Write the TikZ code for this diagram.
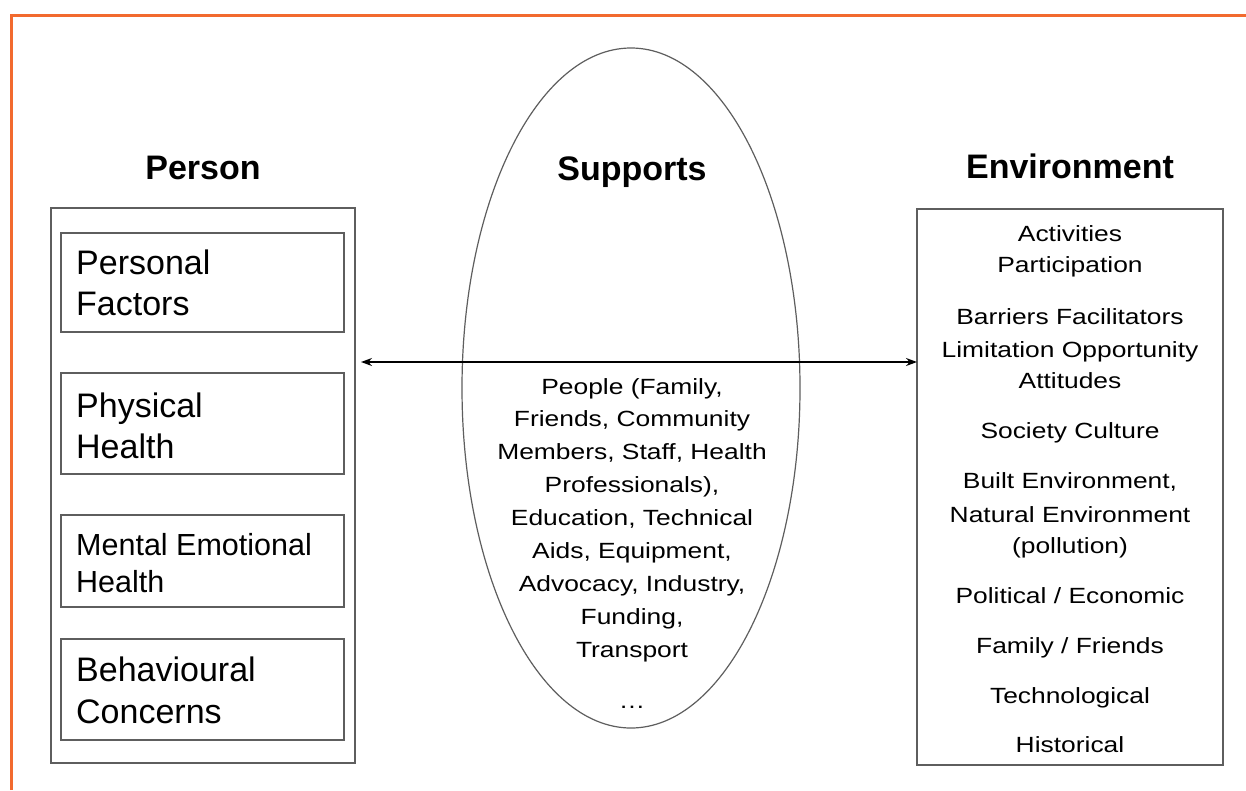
\documentclass[tikz,border=0pt]{standalone}
\usepackage{fontspec}
\setmainfont{Liberation Sans}
\usetikzlibrary{arrows.meta}
\definecolor{frame}{HTML}{F26A2E}
\definecolor{boxline}{HTML}{5E5E5E}
\newcommand\sxs[1]{\scalebox{1.2}[1]{#1}}
\tikzset{
  title/.style={font=\fontsize{34}{40}\bfseries\selectfont, anchor=base, inner sep=0pt},
  small/.style={font=\fontsize{22}{26}\selectfont, anchor=base, inner sep=0pt},
  big/.style={font=\fontsize{34}{40}\selectfont, anchor=base west, inner sep=0pt},
  mid/.style={font=\fontsize{30.5}{36}\selectfont, anchor=base west, inner sep=0pt},
  boxshape/.style={draw=boxline, line width=1.5pt, fill=none},
}
\begin{document}
\begin{tikzpicture}[x=1pt,y=-1pt]
\useasboundingbox (0,0) rectangle (1246,790);
\fill[white] (0,0) rectangle (1246,790);
% orange frame
\draw[frame, line width=3pt] (11.5,790) -- (11.5,15) -- (1246,15);

% Person column
\node[title] (ptitle) at (203,179) {Person};
\draw[boxshape] (51,208) rectangle (355,763);
\draw[boxshape] (61,233) rectangle (344,332);
\draw[boxshape] (61,373) rectangle (344,474);
\draw[boxshape] (61,515) rectangle (344,607);
\draw[boxshape] (61,639) rectangle (344,740);
\node[big] (pf1) at (76,274) {Personal};
\node[big] (pf2) at (76,315) {Factors};
\node[big] (ph1) at (76,417) {Physical};
\node[big] (ph2) at (76,458) {Health};
\node[mid] (me1) at (76,555) {Mental Emotional};
\node[mid] (me2) at (76,592) {Health};
\node[big] (bc1) at (76,681) {Behavioural};
\node[big] (bc2) at (76,723) {Concerns};

% Supports ellipse
\draw[draw=boxline, line width=1.2pt] (631,388) ellipse [x radius=169, y radius=340];
\node[title] (stitle) at (632,180) {Supports};
\foreach \t [count=\i] in {People (Family{,},Friends{,} Community,Members{,} Staff{,} Health,Professionals){,},Education{,} Technical,Aids{,} Equipment{,},Advocacy{,} Industry{,},Funding{,},Transport}
  \node[small] (s\i) at (632,{394+32.9*(\i-1)}) {\sxs{\t}};
\node[small] (sdots) at (632,708) {\sxs{\dots}};

% Environment column
\node[title] (etitle) at (1070,178) {Environment};
\draw[boxshape] (917,209) rectangle (1223,765);
\coordinate (eL) at (917,362);
\foreach \t/\y [count=\i] in {Activities/241,Participation/272,Barriers Facilitators/324,Limitation Opportunity/357,Attitudes/388,Society Culture/438,Built Environment{,}/488,Natural Environment/522,(pollution)/553,{Political / Economic}/603,{Family / Friends}/653,Technological/703,Historical/752}
  \node[small] (e\i) at (1070,\y) {\sxs{\t}};

% double arrow
\coordinate (aL) at (361,362);
\draw[line width=1.5pt, {Stealth[length=11pt,width=8pt]}-{Stealth[length=11pt,width=8pt]}] (aL) -- (eL);
\end{tikzpicture}
\end{document}
